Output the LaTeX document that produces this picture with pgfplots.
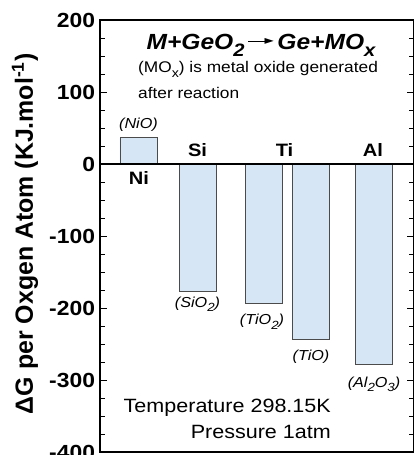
\documentclass[border=0pt]{standalone}
\usepackage{fontspec}
\setmainfont{Liberation Sans}
\newfontfamily\wide{Liberation Sans}[FakeStretch=1.12]
\newfontfamily\dejavu{DejaVu Sans}
\usepackage{graphicx}
\usepackage{pgfplots}
\pgfplotsset{compat=1.18}
\definecolor{barfill}{RGB}{214,230,245}
\definecolor{baredge}{RGB}{75,75,75}
\newcommand{\sub}[1]{\raisebox{-0.32em}{\scalebox{0.82}{#1}}}
\newcommand{\bigarrow}{\raisebox{4.5pt}{\raisebox{2.8pt}{\rule{18pt}{1.3pt}}\kern-1.5pt{\dejavu\fontsize{12}{12}\selectfont\upshape ►}}}
\begin{document}
\begin{tikzpicture}
\begin{axis}[
  at={(0,0)}, anchor=south west,
  scale only axis, width=314bp, height=432bp,
  xmin=0, xmax=314, ymin=-400, ymax=200,
  xtick=\empty,
  ytick={-400,-300,-200,-100,0,100,200},
  minor y tick num=3,
  tick align=inside,
  major tick length=7bp, minor tick length=5bp,
  axis line style={line width=1.4pt},
  every tick/.style={line width=0.9pt, black},
  /pgf/number format/assume math mode=true,
  yticklabel style={font=\wide\fontsize{20.5}{23}\selectfont\bfseries, xshift=-1.5bp},
  ylabel={ΔG per Oxgen Atom (KJ.mol\textsuperscript{-1})},
  every axis y label/.style={at={(axis description cs:-0.239,0.505)}, rotate=90, anchor=center},
  ylabel style={font=\fontsize{25}{28}\selectfont\bfseries},
  clip=false,
]
\addplot[ybar, bar width=37, fill=barfill, draw=baredge, line width=0.9pt]
  coordinates {(38.5,37) (97.5,-177) (163.5,-193) (210.5,-244) (273.5,-278)};
\draw[line width=1.3pt] (axis cs:0,0) -- (axis cs:314,0);
\node[font=\wide\fontsize{22}{26}\selectfont\bfseries\itshape] at (axis cs:161,165)
  {M+GeO\sub{2}\,\bigarrow\,Ge+MO\sub{x}};
\node[font=\wide\fontsize{15.5}{18}\selectfont, anchor=west, inner sep=0pt] at (axis cs:38,131) {(MO\sub{x}) is metal oxide generated};
\node[font=\wide\fontsize{15.5}{18}\selectfont, anchor=west, inner sep=0pt] at (axis cs:38,98.6) {after reaction};
\node[font=\wide\fontsize{14.5}{17}\selectfont\itshape] at (axis cs:38.5,54) {(NiO)};
\node[font=\wide\fontsize{18}{21}\selectfont\bfseries] at (axis cs:97.5,19.5) {Si};
\node[font=\wide\fontsize{18}{21}\selectfont\bfseries] at (axis cs:184.5,19.5) {Ti};
\node[font=\wide\fontsize{18}{21}\selectfont\bfseries] at (axis cs:273,19.5) {Al};
\node[font=\wide\fontsize{18}{21}\selectfont\bfseries] at (axis cs:39,-20) {Ni};
\node[font=\wide\fontsize{14.5}{17}\selectfont\itshape] at (axis cs:97.5,-195) {(SiO\sub{2})};
\node[font=\wide\fontsize{14.5}{17}\selectfont\itshape] at (axis cs:162,-219) {(TiO\sub{2})};
\node[font=\wide\fontsize{14.5}{17}\selectfont\itshape] at (axis cs:211,-268) {(TiO)};
\node[font=\wide\fontsize{14.5}{17}\selectfont\itshape] at (axis cs:274,-306) {(Al\sub{2}O\sub{3})};
\node[font=\wide\fontsize{19.3}{22}\selectfont, anchor=east, inner sep=0pt] at (axis cs:231,-339) {Temperature 298.15K};
\node[font=\wide\fontsize{19.3}{22}\selectfont, anchor=east, inner sep=0pt] at (axis cs:231,-372) {Pressure 1atm};
\end{axis}
\pgfresetboundingbox
\path[use as bounding box] (-100bp,-3bp) rectangle (313.6bp,452bp);
\end{tikzpicture}
\end{document}
